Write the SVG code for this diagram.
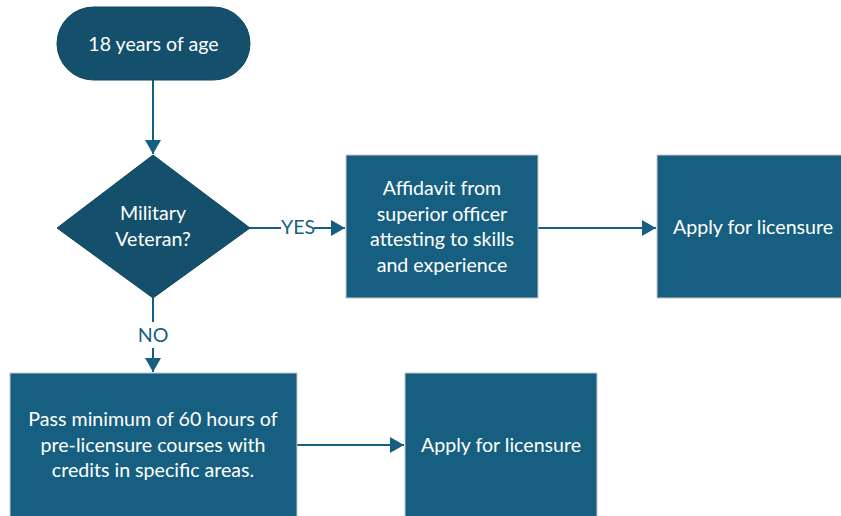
<svg xmlns="http://www.w3.org/2000/svg" width="841" height="516" viewBox="0 0 841 516">
<style>
.dark{fill:#14506c;stroke:#0f4560;stroke-width:1}
.box{fill:#175f80;stroke:#c8c8c8;stroke-width:1}
.t{font-family:Lato,"Liberation Sans",sans-serif;font-size:19.6px;fill:#ffffff;text-anchor:middle}
.lbl{font-family:Lato,"Liberation Sans",sans-serif;font-size:19.6px;fill:#175f80;text-anchor:middle}
.c{stroke:#175f80;stroke-width:2;fill:none}
</style>
<defs>
<marker id="ah" markerWidth="8" markerHeight="8" refX="7" refY="4" orient="auto" markerUnits="strokeWidth">
<path d="M0,0 L7,4 L0,8 Z" fill="#175f80"/>
</marker>
</defs>
<rect width="841" height="516" fill="#ffffff"/>
<g id="connectors">
<line class="c" x1="153" y1="80" x2="153" y2="154" marker-end="url(#ah)"/>
<line class="c" x1="250" y1="228" x2="281" y2="228"/>
<line class="c" x1="314" y1="228" x2="345" y2="228" marker-end="url(#ah)"/>
<line class="c" x1="538" y1="228" x2="656" y2="228" marker-end="url(#ah)"/>
<line class="c" x1="153" y1="298" x2="153" y2="322"/>
<line class="c" x1="153" y1="348" x2="153" y2="372" marker-end="url(#ah)"/>
<line class="c" x1="297" y1="445" x2="404" y2="445" marker-end="url(#ah)"/>
<text class="lbl" x="298" y="234">YES</text>
<text class="lbl" x="153" y="342">NO</text>
</g>
<g id="start">
<rect class="dark" x="57" y="7" width="193" height="73" rx="36.5" ry="36.5"/>
<text class="t" x="153.5" y="51">18 years of age</text>
</g>
<g id="decision">
<polygon class="dark" points="153,155 250,228 153,298 57,228"/>
<text class="t" x="153" y="220">Military</text>
<text class="t" x="153" y="246">Veteran?</text>
</g>
<g id="affidavit">
<rect class="box" x="346" y="155" width="192" height="143"/>
<text class="t" x="442" y="195">Affidavit from</text>
<text class="t" x="442" y="221">superior officer</text>
<text class="t" x="442" y="246">attesting to skills</text>
<text class="t" x="442" y="272">and experience</text>
</g>
<g id="apply1">
<rect class="box" x="657" y="155" width="192" height="143"/>
<text class="t" x="753" y="234">Apply for licensure</text>
</g>
<g id="courses">
<rect class="box" x="10" y="373" width="287" height="150"/>
<text class="t" x="153" y="426">Pass minimum of 60 hours of</text>
<text class="t" x="153" y="452">pre-licensure courses with</text>
<text class="t" x="153" y="477">credits in specific areas.</text>
</g>
<g id="apply2">
<rect class="box" x="405" y="373" width="192" height="150"/>
<text class="t" x="501" y="452">Apply for licensure</text>
</g>
</svg>
